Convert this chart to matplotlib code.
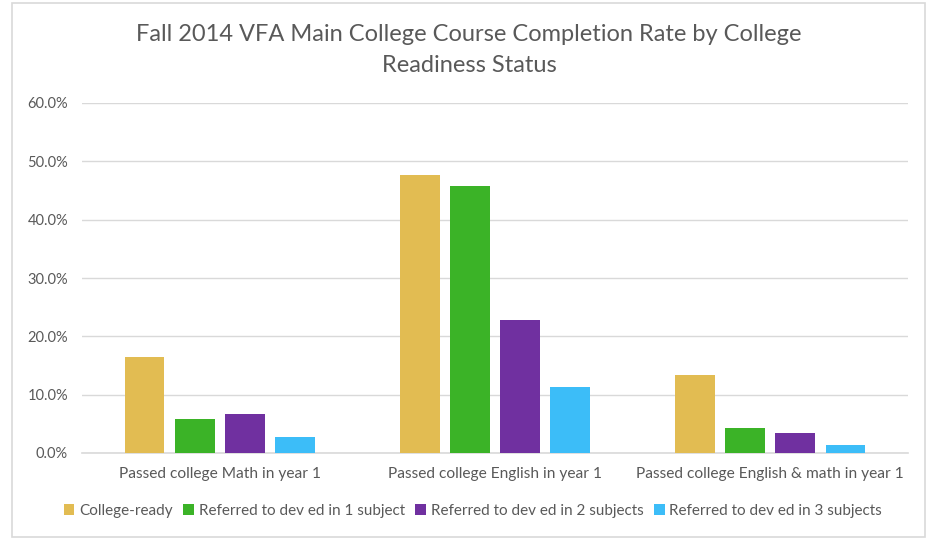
import numpy as np
import matplotlib.pyplot as plt
from matplotlib.patches import Rectangle
from matplotlib.ticker import PercentFormatter

plt.rcParams['font.family'] = ['Lato', 'DejaVu Sans']

categories = ["Passed college Math in year 1",
              "Passed college English in year 1",
              "Passed college English & math in year 1"]
series_names = ["College-ready",
                "Referred to dev ed in 1 subject",
                "Referred to dev ed in 2 subjects",
                "Referred to dev ed in 3 subjects"]
college_ready = [16.5, 47.7, 13.4]
dev_ed_1 = [5.8, 45.8, 4.3]
dev_ed_2 = [6.7, 22.8, 3.4]
dev_ed_3 = [2.7, 11.3, 1.4]
colors = ["#E2BC52", "#3BB327", "#7030A0", "#3CBDF8"]

fig = plt.figure(figsize=(9.26, 5.4), dpi=100)
# chart-area border
fig.patches.append(Rectangle((12 / 926, 3 / 540), 913 / 926, 534 / 540,
                             transform=fig.transFigure, fill=False,
                             edgecolor="#D9D9D9", linewidth=1.2))

ax = fig.add_axes([82 / 926, 1 - 453 / 540, 826 / 926, 350 / 540])

x = np.arange(len(categories))
width = 0.145
step = 0.182
for i, (vals, name) in enumerate(zip([college_ready, dev_ed_1, dev_ed_2, dev_ed_3], series_names)):
    ax.bar(x + (i - 1.5) * step, vals, width, color=colors[i], label=name, zorder=3)

ax.set_xlim(-0.5, 2.5)
ax.set_ylim(0, 60)
ax.set_yticks(np.arange(0, 61, 10))
ax.yaxis.set_major_formatter(PercentFormatter(decimals=1))
ax.grid(axis="y", color="#D9D9D9", linewidth=1, zorder=0)
for s in ["top", "right", "left"]:
    ax.spines[s].set_visible(False)
ax.spines["bottom"].set_color("#D9D9D9")
ax.spines["bottom"].set_linewidth(1.2)
ax.set_xticks(x)
ax.set_xticklabels(categories)
ax.tick_params(axis="both", length=0, colors="#595959", labelsize=10.5)
ax.tick_params(axis="x", pad=10, labelsize=11.2)
ax.tick_params(axis="y", pad=10)

fig.text(469 / 926, 1 - 50 / 540, "Fall 2014 VFA Main College Course Completion Rate by College\nReadiness Status",
         ha="center", va="center", fontsize=17, color="#595959", linespacing=1.55)

fig.legend(loc="center", bbox_to_anchor=(473 / 926, 1 - 511 / 540), ncol=4, frameon=False,
           fontsize=11, labelcolor="#595959", handlelength=0.7, handleheight=0.7,
           handletextpad=0.3, columnspacing=0.7)

fig.savefig("out.png", dpi=100)
